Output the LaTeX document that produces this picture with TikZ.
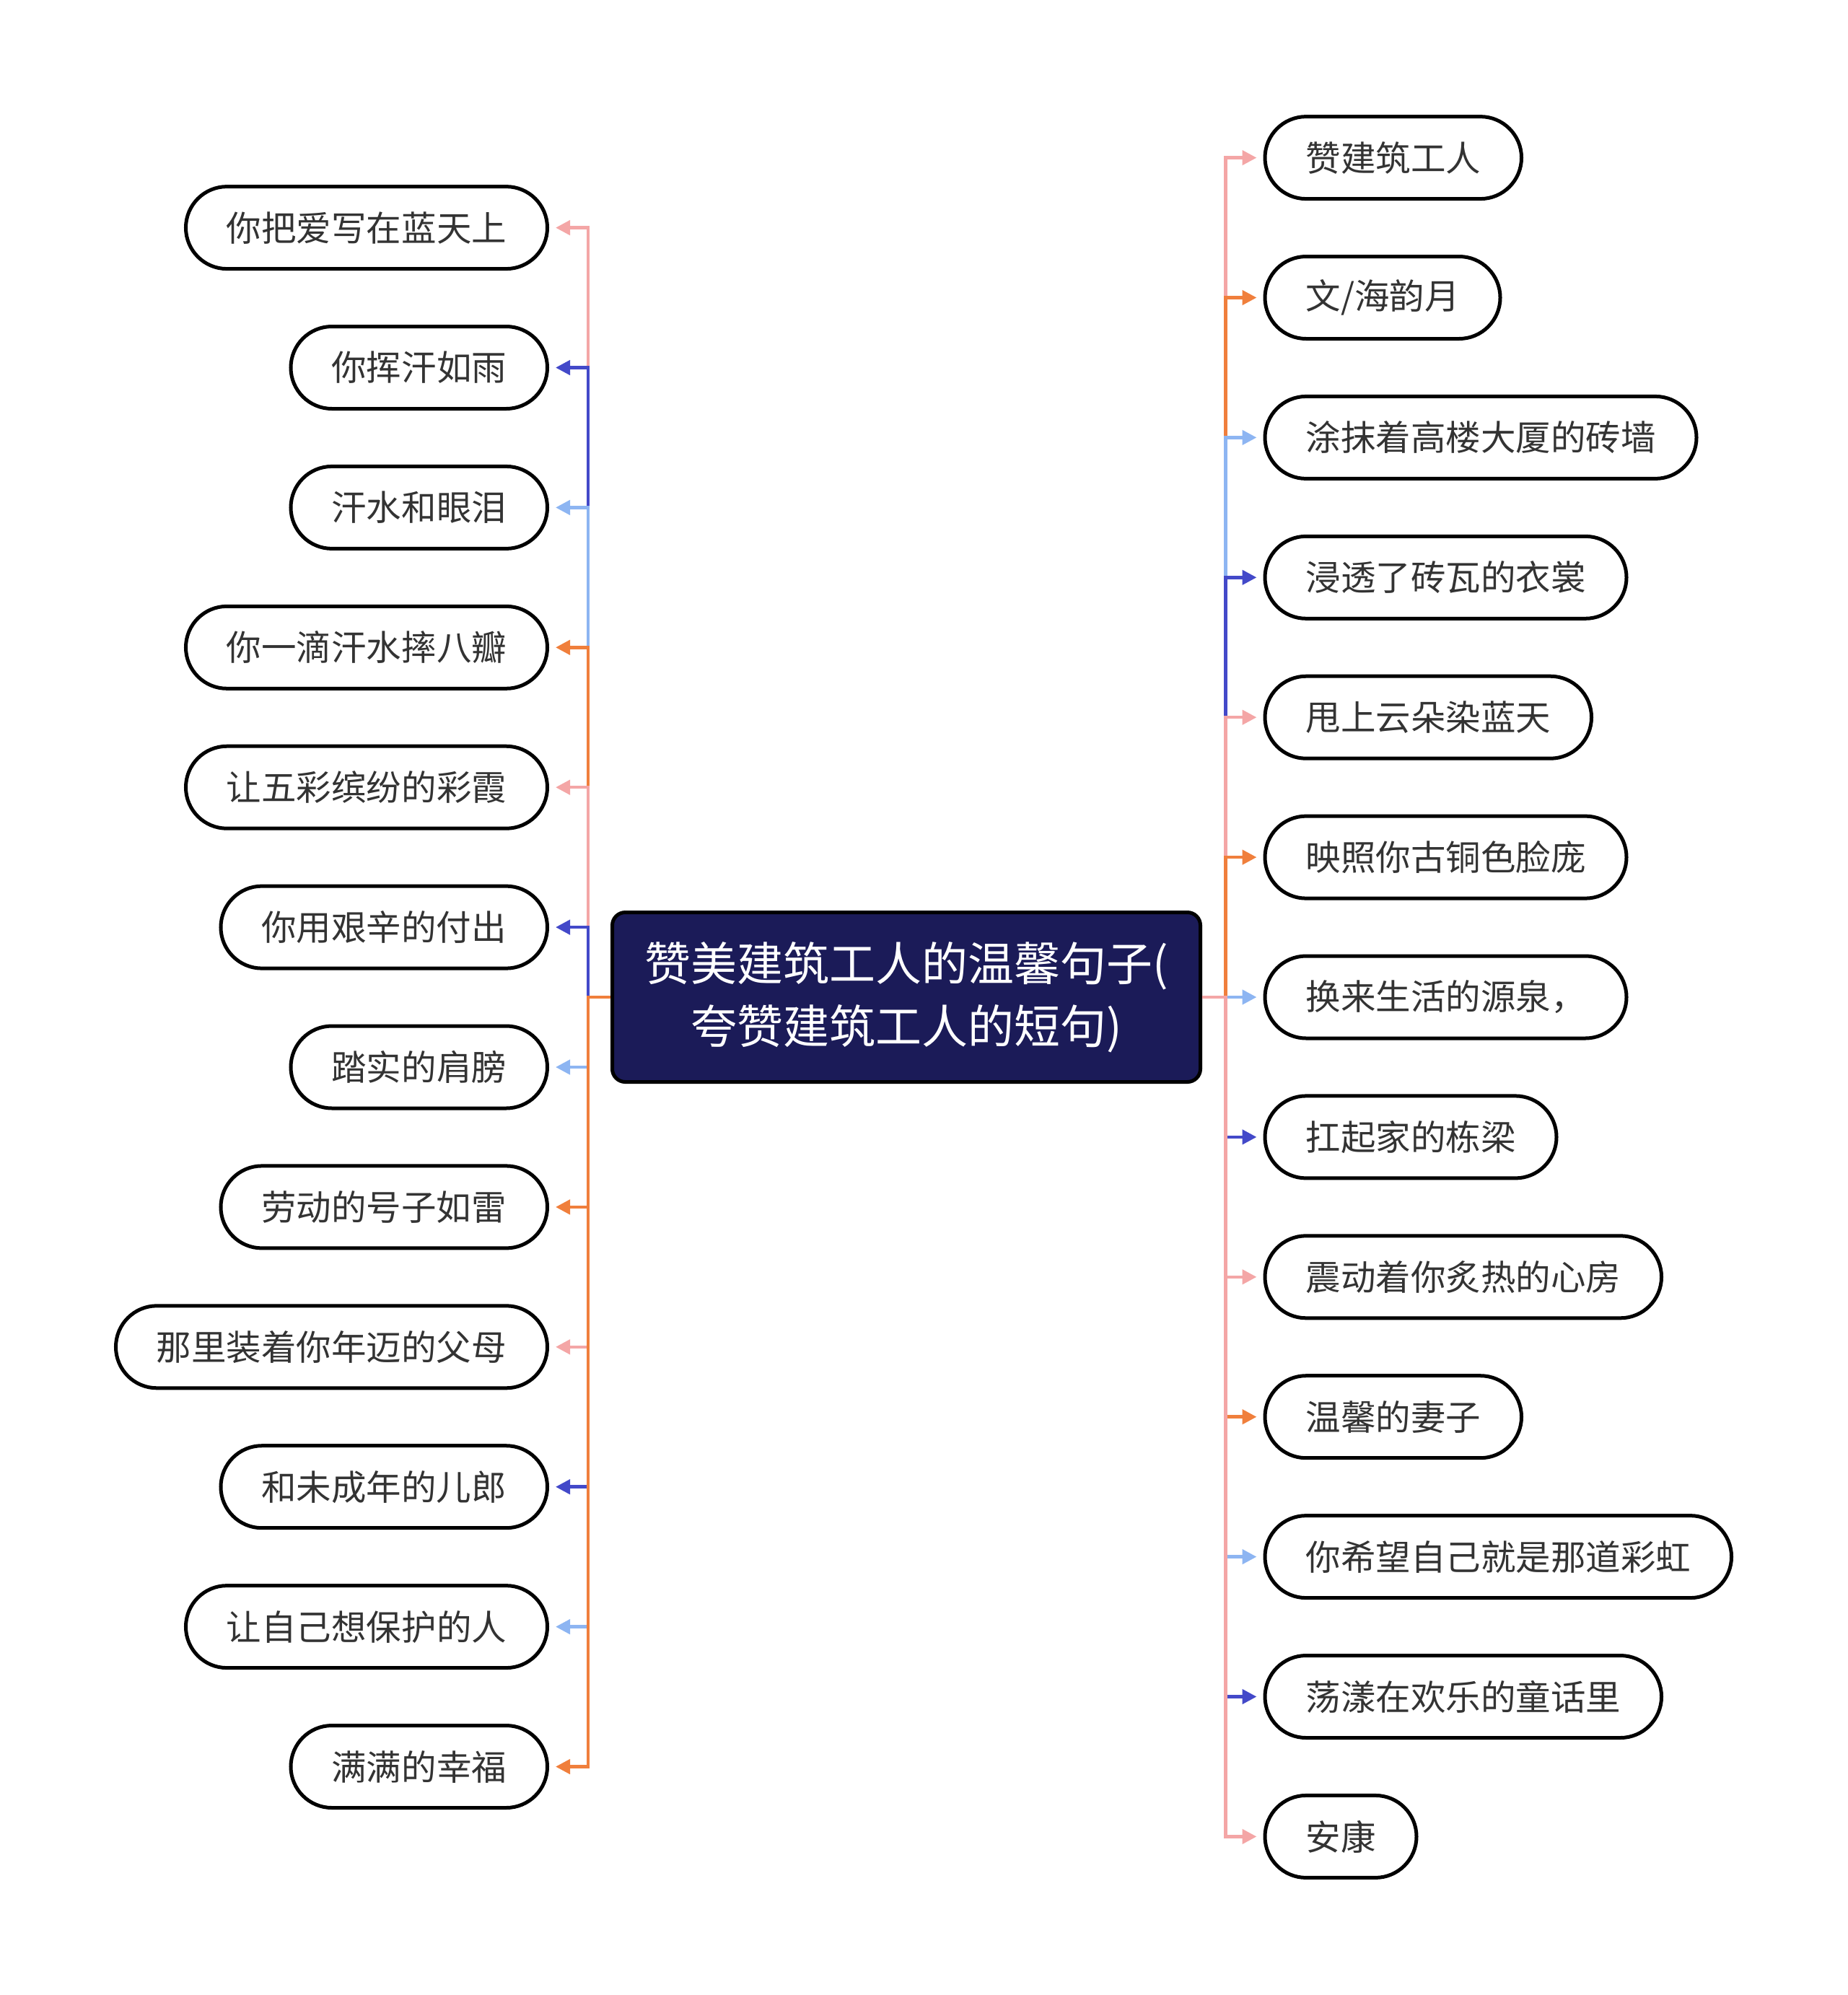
\documentclass[tikz,border=0pt]{standalone}
\usepackage{fontspec}
\setmainfont{Noto Sans CJK SC}
\usetikzlibrary{arrows.meta}
\definecolor{linkpink}{HTML}{F4A6A6}
\definecolor{linkorange}{HTML}{F07F3C}
\definecolor{linksky}{HTML}{8DB5F2}
\definecolor{linkblue}{HTML}{4349C9}
\definecolor{rootnavy}{HTML}{1B1B58}
\definecolor{leaftext}{HTML}{333333}
\begin{document}
\begin{tikzpicture}[
  leaf/.style={draw=black,fill=white,line width=0.05cm,rounded corners=0.57cm,minimum height=1.14cm,inner xsep=0.565cm,inner ysep=0pt,text=leaftext,font=\fontsize{13.8pt}{16pt}\selectfont},
  lleaf/.style={leaf,anchor=east},
  rleaf/.style={leaf,anchor=west},
  link/.style={line width=0.045cm,-{Triangle[length=0.2cm,width=0.2cm]},shorten >=0.09cm}]
\useasboundingbox (0,0) rectangle (25.6,-27.65);
% central topic
\node[draw=black,fill=rootnavy,line width=0.05cm,rounded corners=0.18cm,minimum width=8.15cm,minimum height=2.35cm,text=white,align=center,font=\fontsize{18.2pt}{24.7pt}\selectfont] (root) at (12.56,-13.82) {赞美建筑工人的温馨句子(\\夸赞建筑工人的短句)};
% left branch
\node[lleaf] (l1) at (7.61,-3.156) {你把爱写在蓝天上};
\node[lleaf] (l2) at (7.61,-5.095) {你挥汗如雨};
\node[lleaf] (l3) at (7.61,-7.034) {汗水和眼泪};
\node[lleaf] (l4) at (7.61,-8.973) {你一滴汗水摔八瓣};
\node[lleaf] (l5) at (7.61,-10.912) {让五彩缤纷的彩霞};
\node[lleaf] (l6) at (7.61,-12.851) {你用艰辛的付出};
\node[lleaf] (l7) at (7.61,-14.790) {踏实的肩膀};
\node[lleaf] (l8) at (7.61,-16.729) {劳动的号子如雷};
\node[lleaf] (l9) at (7.61,-18.668) {那里装着你年迈的父母};
\node[lleaf] (l10) at (7.61,-20.607) {和未成年的儿郎};
\node[lleaf] (l11) at (7.61,-22.546) {让自己想保护的人};
\node[lleaf] (l12) at (7.61,-24.485) {满满的幸福};
% right branch
\node[rleaf] (r1) at (17.505,-2.186) {赞建筑工人};
\node[rleaf] (r2) at (17.505,-4.125) {文/海韵月};
\node[rleaf] (r3) at (17.505,-6.064) {涂抹着高楼大厦的砖墙};
\node[rleaf] (r4) at (17.505,-8.003) {浸透了砖瓦的衣裳};
\node[rleaf] (r5) at (17.505,-9.942) {甩上云朵染蓝天};
\node[rleaf] (r6) at (17.505,-11.881) {映照你古铜色脸庞};
\node[rleaf] (r7) at (17.505,-13.820) {换来生活的源泉，};
\node[rleaf] (r8) at (17.505,-15.759) {扛起家的栋梁};
\node[rleaf] (r9) at (17.505,-17.698) {震动着你炙热的心房};
\node[rleaf] (r10) at (17.505,-19.637) {温馨的妻子};
\node[rleaf] (r11) at (17.505,-21.576) {你希望自己就是那道彩虹};
\node[rleaf] (r12) at (17.505,-23.515) {荡漾在欢乐的童话里};
\node[rleaf] (r13) at (17.505,-25.454) {安康};
% connectors, drawn top to bottom so the lower ones lie on top
\draw[link,linkpink] (root.west) -- ++(-0.31,0) |- (l1.east);
\draw[link,linkblue] (root.west) -- ++(-0.31,0) |- (l2.east);
\draw[link,linksky] (root.west) -- ++(-0.31,0) |- (l3.east);
\draw[link,linkorange] (root.west) -- ++(-0.31,0) |- (l4.east);
\draw[link,linkpink] (root.west) -- ++(-0.31,0) |- (l5.east);
\draw[link,linkblue] (root.west) -- ++(-0.31,0) |- (l6.east);
\draw[link,linksky] (root.west) -- ++(-0.31,0) |- (l7.east);
\draw[link,linkorange] (root.west) -- ++(-0.31,0) |- (l8.east);
\draw[link,linkpink] (root.west) -- ++(-0.31,0) |- (l9.east);
\draw[link,linkblue] (root.west) -- ++(-0.31,0) |- (l10.east);
\draw[link,linksky] (root.west) -- ++(-0.31,0) |- (l11.east);
\draw[link,linkorange] (root.west) -- ++(-0.31,0) |- (l12.east);
\draw[link,linkpink] (root.east) -- ++(0.325,0) |- (r1.west);
\draw[link,linkorange] (root.east) -- ++(0.325,0) |- (r2.west);
\draw[link,linksky] (root.east) -- ++(0.325,0) |- (r3.west);
\draw[link,linkblue] (root.east) -- ++(0.325,0) |- (r4.west);
\draw[link,linkpink] (root.east) -- ++(0.325,0) |- (r5.west);
\draw[link,linkorange] (root.east) -- ++(0.325,0) |- (r6.west);
\draw[link,linksky] (root.east) -- ++(0.325,0) |- (r7.west);
\draw[link,linkblue] (root.east) -- ++(0.325,0) |- (r8.west);
\draw[link,linkpink] (root.east) -- ++(0.325,0) |- (r9.west);
\draw[link,linkorange] (root.east) -- ++(0.325,0) |- (r10.west);
\draw[link,linksky] (root.east) -- ++(0.325,0) |- (r11.west);
\draw[link,linkblue] (root.east) -- ++(0.325,0) |- (r12.west);
\draw[link,linkpink] (root.east) -- ++(0.325,0) |- (r13.west);
\end{tikzpicture}
\end{document}
